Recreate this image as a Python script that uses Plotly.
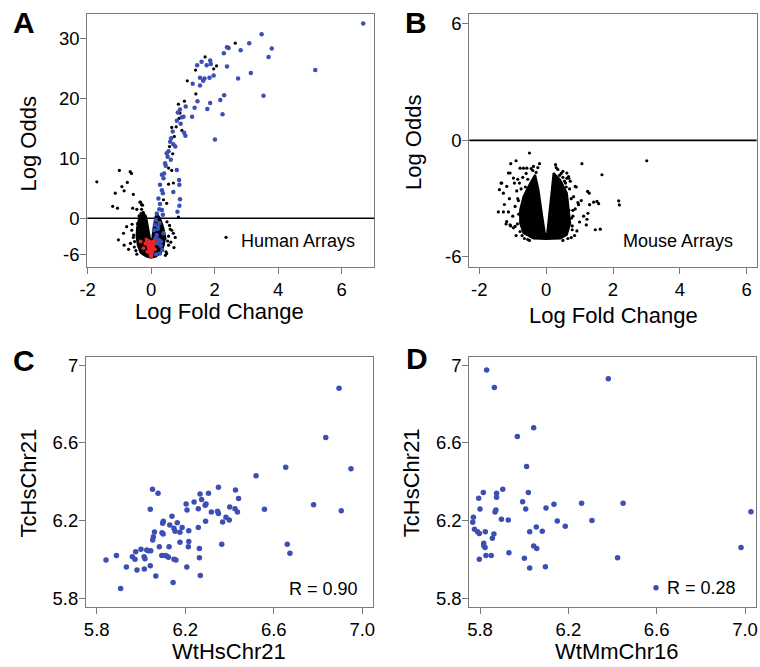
import plotly.graph_objects as go

W, H = 760, 667
FONT = "Liberation Sans, Arial, Helvetica, sans-serif"
BLUE = "#3b4fb5"
RED = "#e5262b"

# ---------------- Panel A: human arrays volcano ----------------
a_blue_x = [6.68, 3.48, 3.09, 2.39, 2.44, 3.80, 2.82, 2.29, 3.70, 1.59, 1.86, 1.45, 1.75, 1.88, 2.39,
            5.17, 3.14, 1.54, 1.68, 1.84, 1.97, 1.64, 1.54, 1.31, 2.74, 2.30, 3.54, 2.18, 1.46, 1.86,
            1.77, 1.37, 2.25, 1.29, 2.01, 1.09, 0.91, 0.84, 1.02, 0.97, 0.81, 0.93, 0.68, 1.04, 1.08,
            0.60, 0.70, 0.76, 0.49, 0.52, 0.44, 0.46, 0.81, 0.34, 0.39, 0.88, 0.28, 0.34, 0.37, 0.70,
            0.89, 0.23, 0.91, 0.28, 0.26, 0.34, 0.89, 0.37, 0.83, 0.18, 0.15, 0.12, 0.09, 0.63, 0.55,
            0.62, 0.41, 0.18, 0.24, 0.30, 0.35, 0.21, 0.26, 0.39, 0.28, 0.16, 0.20, 0.14, 0.22, 0.31]
a_blue_y = [32.6, 30.8, 29.3, 28.6, 28.5, 28.4, 28.1, 27.6, 27.0, 26.2, 26.4, 25.6, 25.6, 25.8, 25.4,
            24.8, 24.3, 23.5, 23.4, 23.5, 23.9, 23.0, 22.2, 22.5, 23.4, 20.6, 20.5, 19.8, 19.6, 19.3,
            18.3, 18.5, 17.4, 17.0, 13.2, 18.7, 18.2, 17.7, 17.0, 16.9, 16.3, 15.8, 14.5, 14.3, 13.8,
            12.8, 12.4, 12.0, 10.9, 10.3, 9.2, 8.8, 8.1, 7.3, 6.7, 6.4, 5.6, 4.7, 4.2, 4.4,
            5.6, 3.3, 3.2, 2.4, 1.5, 1.4, 2.1, 0.6, 1.1, 0.8, -0.3, -1.1, -2.0, 13.4, 11.2,
            9.8, 7.5, -2.8, -3.6, -4.6, -5.3, -1.8, -0.8, -2.5, -5.9, -6.0, -4.2, -3.3, -1.4, -3.9]

a_black_x = [2.65, 1.70, 1.97, 2.06, 1.40, 1.14, 1.41, 1.05, 0.86, 0.91, 0.88, 0.65, 0.79, 0.97, 0.73,
             0.58, 0.68, 0.55, 0.65, 0.70, 0.55, 0.86, 0.49, 0.39, 2.39,
             -1.71, -1.00, -0.66, -0.62, -0.75, -0.92, -1.13, -0.85, -0.56, -1.21, -1.06, -0.35, -0.58,
             -0.45, -0.24, -0.30,
             -1.03, -0.71, -0.85, -0.87, -0.61, -0.56, -0.77, -0.43, 0.60, 0.70, 0.44, 0.55, 0.72, 0.49,
             0.65, 0.76, 0.34, -0.32, -0.30, -0.27, -0.33, -0.25, -0.38, -0.20, -0.28, -0.52, 0.52,
             0.58, -0.48, -0.65, 0.47, -0.55, -0.60, -0.53, 0.55, 0.62, 0.50, -0.45, 0.45]
a_black_y = [29.3, 27.0, 25.0, 25.5, 24.8, 23.0, 20.8, 19.6, 19.1, 17.6, 16.7, 15.2, 15.3, 14.7, 13.7,
             12.0, 10.8, 8.4, 8.0, 5.9, 5.7, 0.2, 2.5, 3.1, 28.7,
             6.1, 8.0, 7.8, 7.5, 6.0, 5.3, 4.2, 4.6, 4.0, 2.0, 1.7, 2.7, 1.7,
             1.5, 0.8, 2.3,
             -3.6, -5.2, -4.5, -2.5, -2.0, -3.2, -1.4, -0.9, -1.8, -2.5, -3.4, -4.5, -4.9, -5.9,
             -2.0, -3.2, -5.0, 0.8, 1.5, 2.2, 2.7, 1.0, 0.4, 0.5, 0.3, -3.9, -3.8,
             -1.2, -5.4, -4.2, -5.6, -2.8, -1.0, -4.8, -3.0, -4.0, -0.6, -6.0, -6.2]

# outline of the dense black cloud of points near the origin
a_core_x = [-0.30, -0.38, -0.44, -0.46, -0.42, -0.33, -0.15, 0.0, 0.15, 0.30, 0.40, 0.44, 0.38,
            0.28, 0.20, 0.14, 0.08, 0.03, 0.0, -0.03, -0.09, -0.16, -0.30]
a_core_y = [0.6, 0.0, -1.5, -3.0, -4.5, -5.8, -6.4, -6.6, -6.4, -5.8, -4.5, -3.0, -1.5,
            0.0, 0.6, 0.3, -1.5, -3.5, -5.0, -3.5, -1.5, 0.3, 0.6]
# outline of the dense red cloud inside the V
a_red_x = [-0.18, -0.08, 0.0, 0.08, 0.17, 0.09, 0.03, -0.03, -0.10, -0.18]
a_red_y = [-3.3, -3.7, -3.9, -3.7, -3.1, -4.7, -6.5, -6.5, -4.9, -3.3]
a_red_pts_x = [-0.24, -0.33, -0.18, 0.15, 0.12, -0.12]
a_red_pts_y = [-5.0, -3.9, -4.2, -4.0, -5.2, -5.6]

a_key_x = [2.36]
a_key_y = [-3.18]

# ---------------- Panel B: mouse arrays volcano ----------------
b_core_x = [-0.33, -0.48, -0.68, -0.78, -0.78, -0.68, -0.38, 0.0, 0.42, 0.62, 0.72, 0.67, 0.62,
            0.42, 0.22, 0.17, 0.10, 0.03, 0.0, -0.04, -0.13, -0.23, -0.33]
b_core_y = [-1.77, -2.20, -2.89, -3.57, -4.26, -4.77, -5.05, -5.08, -5.05, -4.86, -4.26, -3.40, -2.71,
            -2.03, -1.68, -2.54, -3.74, -4.77, -4.90, -4.77, -3.74, -2.54, -1.77]
b_pts_x = [-0.50, -0.90, -1.06, 3.01, 1.07, 1.67, -0.78, -0.68, -0.58, -0.38, -1.13, -0.98, -1.35,
           -1.40, -1.28, -1.18, 2.17, 2.19, 1.24, 1.29, 1.42, 1.57, 1.25, -1.43, -1.28, -1.13,
           -1.20, -1.06, -0.93, -0.78, 1.62, 1.47, 1.00, 1.22, 1.12, 0.92, 0.87, 0.62, 0.72, 0.82,
           0.95, 0.85, 0.75, -0.88, -0.83, -0.93, -1.00, -0.90, -0.95, -0.70, -0.60, -0.40, 0.35,
           0.45, 0.60, 0.68, 0.90, 0.80, 1.05, 0.78, 0.65, -0.65, -0.55, -1.10, -1.25, -1.33,
           -1.08, 1.52, 1.30, 1.20, 0.97, 0.87, 0.67, -1.18, -1.08, -0.98, 0.30, 0.50, -0.30,
           -0.45, -0.85, 0.55, 0.40, 0.25,
           -0.85, -0.82, -0.86, -0.72, -0.50, 0.50, 0.78, 0.80, 0.75, 0.70, 0.50, -0.55, -0.75,
           -0.80, 0.30, -0.25, -0.20, 0.28, 0.62, 0.58, -0.62, -0.70, 0.68, 0.76]
b_pts_y = [-0.65, -1.05, -1.20, -1.05, -1.20, -1.77, -1.43, -1.43, -1.43, -1.34, -1.68, -1.94, -2.20,
           -2.54, -2.72, -2.37, -3.11, -3.32, -2.63, -2.72, -3.18, -3.26, -3.75, -3.68, -3.68, -3.68,
           -4.30, -4.40, -4.43, -4.69, -4.57, -4.60, -4.20, -4.06, -3.90, -4.66, -3.53, -1.68, -2.10,
           -2.90, -3.20, -4.90, -5.00, -2.60, -3.10, -3.40, -3.90, -4.90, -2.20, -1.90, -1.70, -1.55,
           -1.50, -1.70, -2.40, -1.95, -2.40, -3.60, -3.10, -4.40, -5.05, -5.05, -5.10, -3.00, -3.30,
           -2.20, -1.68, -3.14, -3.31, -4.35, -3.31, -2.37, -1.86, -4.18, -4.35, -4.50, -1.90, -1.60,
           -1.65, -1.45, -2.00, -2.10, -1.80, -2.20,
           -3.00, -3.80, -4.30, -4.90, -5.15, -5.15, -4.60, -3.90, -3.00, -2.50, -1.90, -2.00, -2.50,
           -2.20, -1.40, -1.40, -1.20, -1.25, -1.95, -2.20, -2.40, -3.30, -3.60, -4.00]

# ---------------- Panel C ----------------
c_x = [6.895, 6.835, 6.949, 6.654, 6.520, 6.350, 6.052, 6.077, 6.042, 6.267, 6.305, 6.427, 6.441,
       6.240, 6.274, 6.204, 6.294, 6.290, 6.401, 6.425, 6.436, 6.208, 6.259, 6.318, 6.346, 6.350,
       6.558, 6.780, 6.905, 6.384, 6.369, 6.399, 6.292, 6.140, 6.101, 6.098, 6.164, 6.186, 6.149,
       6.154, 6.216, 6.259, 6.061, 6.095, 6.100, 6.176, 6.056, 6.053, 6.176, 6.216, 6.083, 6.127,
       6.214, 6.264, 6.365, 6.661, 6.673, 5.976, 6.000, 6.026, 6.033, 6.044, 5.961, 5.973, 6.014,
       6.018, 5.889, 5.842, 6.094, 6.109, 6.116, 6.124, 6.149, 6.158, 6.264, 5.934, 5.982, 6.015,
       6.042, 6.207, 6.067, 6.268, 6.145, 5.908, 6.130]
c_y = [6.881, 6.628, 6.467, 6.474, 6.430, 6.371, 6.361, 6.340, 6.258, 6.337, 6.340, 6.357, 6.313,
       6.296, 6.309, 6.285, 6.285, 6.279, 6.270, 6.261, 6.244, 6.255, 6.261, 6.244, 6.248, 6.237,
       6.258, 6.282, 6.251, 6.217, 6.193, 6.203, 6.196, 6.222, 6.196, 6.186, 6.189, 6.165, 6.160,
       6.145, 6.148, 6.165, 6.141, 6.138, 6.131, 6.140, 6.117, 6.100, 6.088, 6.092, 6.066, 6.066,
       6.066, 6.057, 6.078, 6.078, 6.032, 6.040, 6.052, 6.049, 6.045, 6.045, 6.014, 6.001, 6.014,
       6.004, 6.020, 5.997, 6.021, 6.021, 6.018, 6.011, 6.001, 5.997, 6.009, 5.961, 5.946, 5.951,
       5.968, 5.961, 5.915, 5.918, 5.882, 5.851, 6.177]

# ---------------- Panel D ----------------
d_x = [5.830, 5.865, 6.381, 6.043, 5.969, 6.011, 5.903, 5.815, 5.875, 5.875, 5.794, 6.019, 5.993,
       6.135, 6.260, 6.448, 6.099, 6.007, 5.800, 5.872, 5.868, 5.770, 5.897, 5.928, 6.307, 6.150,
       5.767, 6.055, 6.186, 5.775, 5.789, 5.797, 5.824, 6.025, 6.082, 5.863, 5.856, 5.817, 5.817,
       5.823, 6.043, 6.057, 6.982, 5.931, 5.827, 5.851, 5.797, 6.001, 6.423, 6.025, 6.096, 7.027,
       6.597]
d_y = [6.975, 6.884, 6.929, 6.678, 6.632, 6.478, 6.361, 6.344, 6.340, 6.320, 6.315, 6.344, 6.297,
       6.284, 6.289, 6.289, 6.265, 6.260, 6.260, 6.255, 6.244, 6.217, 6.207, 6.203, 6.201, 6.198,
       6.191, 6.167, 6.171, 6.155, 6.143, 6.134, 6.143, 6.143, 6.145, 6.131, 6.109, 6.083, 6.071,
       6.062, 6.069, 6.057, 6.062, 6.035, 6.021, 6.020, 6.001, 6.006, 6.009, 5.956, 5.963, 6.246,
       5.855]

volcano_xticks = [-2, 0, 2, 4, 6]
volcano_xtext = ["-2", "0", "2", "4", "6"]
a_yticks = [-6, 0, 10, 20, 30]
a_ytext = ["-6", "0", "10", "20", "30"]
b_yticks = [-6, 0, 6]
b_ytext = ["-6", "0", "6"]
expr_ticks = [5.8, 6.2, 6.6, 7.0]
expr_xtext = ["5.8", "6.2", "6.6", "7.0"]
expr_ytext = ["5.8", "6.2", "6.6", "7"]

fig = go.Figure()

def pts(x, y, xa, ya, color, size):
    fig.add_trace(go.Scatter(x=x, y=y, xaxis=xa, yaxis=ya, mode="markers",
                             marker=dict(color=color, size=size, line=dict(width=0)),
                             showlegend=False, hoverinfo="skip"))

def poly(x, y, xa, ya, color):
    fig.add_trace(go.Scatter(x=x, y=y, xaxis=xa, yaxis=ya, mode="lines", fill="toself",
                             fillcolor=color, line=dict(color=color, width=2),
                             showlegend=False, hoverinfo="skip"))

# A
poly(a_core_x, a_core_y, "x", "y", "black")
pts(a_black_x, a_black_y, "x", "y", "black", 3.2)
pts(a_key_x, a_key_y, "x", "y", "black", 3.2)
poly(a_red_x, a_red_y, "x", "y", RED)
pts(a_red_pts_x, a_red_pts_y, "x", "y", RED, 4)
pts(a_blue_x, a_blue_y, "x", "y", BLUE, 4.5)
# B
poly(b_core_x, b_core_y, "x2", "y2", "black")
pts(b_pts_x, b_pts_y, "x2", "y2", "black", 3.2)
# C, D
pts(c_x, c_y, "x3", "y3", BLUE, 5.5)
pts(d_x, d_y, "x4", "y4", BLUE, 5.5)

def ax(domain, rng, tickvals, ticktext, anchor=None, standoff=0):
    return dict(domain=domain, range=rng, tickvals=tickvals, ticktext=ticktext,
                showline=True, mirror=True,
                linecolor="#7a7a7a", linewidth=1.2, ticks="outside", tickcolor="#7a7a7a",
                ticklen=6, tickwidth=1.2, showgrid=False, zeroline=False, anchor=anchor,
                automargin=False, ticklabelstandoff=standoff,
                tickfont=dict(family=FONT, size=18.5, color="black"))

yA = [1 - 266.7 / H, 1 - 14 / H]
yC = [1 - 606.7 / H, 1 - 356.7 / H]
fig.update_layout(
    template="none",
    width=W, height=H, margin=dict(l=0, r=0, t=0, b=0, pad=0, autoexpand=False),
    paper_bgcolor="white", plot_bgcolor="white",
    xaxis=ax([87.3 / W, 374.3 / W], [-2.01, 7.03], volcano_xticks, volcano_xtext, anchor="y"),
    yaxis=ax(yA, [-8.10, 34.18], a_yticks, a_ytext, anchor="x", standoff=-3),
    xaxis2=ax([469.3 / W, 756.7 / W], [-2.3, 6.3], volcano_xticks, volcano_xtext, anchor="y2"),
    yaxis2=ax(yA, [-6.5, 6.5], b_yticks, b_ytext, anchor="x2", standoff=-3),
    xaxis3=ax([86.1 / W, 372.9 / W], [5.752, 7.048], expr_ticks, expr_xtext, anchor="y3"),
    yaxis3=ax(yC, [5.757, 7.043], expr_ticks, expr_ytext, anchor="x3", standoff=-3),
    xaxis4=ax([469.4 / W, 755.6 / W], [5.752, 7.048], expr_ticks, expr_xtext, anchor="y4"),
    yaxis4=ax(yC, [5.757, 7.043], expr_ticks, expr_ytext, anchor="x4", standoff=-3),
)

for xr, yr in (("x domain", "y"), ("x2 domain", "y2")):
    fig.add_shape(type="line", xref=xr, yref=yr, x0=0, x1=1, y0=0, y1=0,
                  line=dict(color="black", width=1.6), layer="below")

def note(text, px, py, size=18, xanchor="center", angle=0, bold=False):
    fig.add_annotation(text=f"<b>{text}</b>" if bold else text, x=px / W, y=1 - py / H,
                       xref="paper", yref="paper", showarrow=False, xanchor=xanchor,
                       yanchor="middle", textangle=angle,
                       font=dict(family=FONT, size=size, color="black"))

note("A", 24, 22.5, 30, bold=True)
note("B", 416, 22.5, 30, bold=True)
note("C", 23.5, 360, 30, bold=True)
note("D", 417.5, 358, 30, bold=True)

note("Log Fold Change", 219, 311, 22)
note("Log Odds", 28, 143.5, 22, angle=-90)
note("Log Fold Change", 613.3, 315, 22)
note("Log Odds", 413, 143, 22, angle=-90)
note("WtHsChr21", 229, 651, 22)
note("TcHsChr21", 28, 482.5, 22, angle=-90)
note("WtMmChr16", 616, 651, 22)
note("TcHsChr21", 411.7, 482.5, 22, angle=-90)

note("Human Arrays", 239, 241, 18, xanchor="left")
note("Mouse Arrays", 620.7, 241, 18, xanchor="left")
note("R = 0.90", 286.7, 589, 18, xanchor="left")
note("R = 0.28", 665, 588, 18, xanchor="left")

# the page body has a default 8px margin; remove it so the 760x667 figure fills the window
fig.write_html("out.html", config={"displayModeBar": False},
               post_script="document.body.style.margin='0px';")
